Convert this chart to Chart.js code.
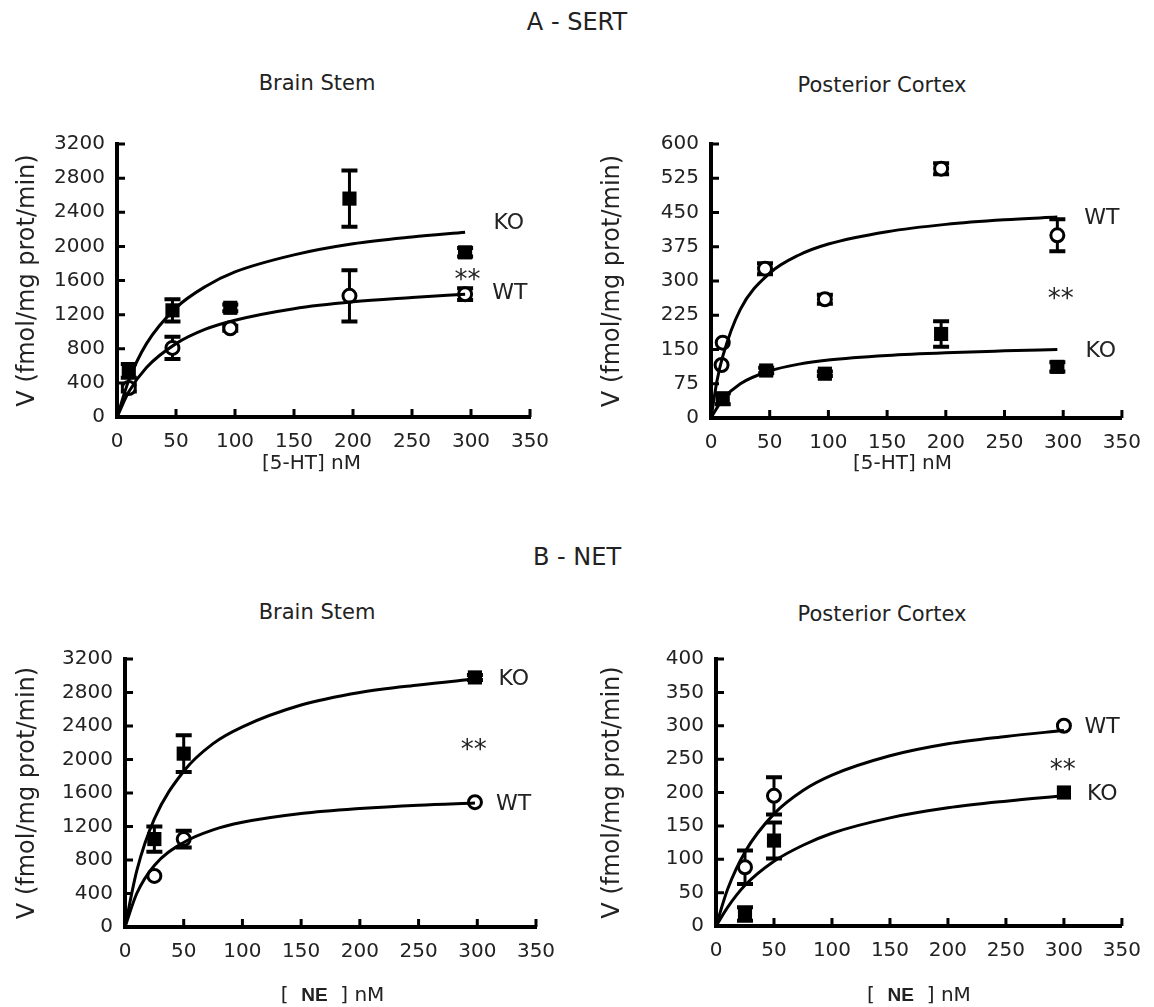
<!DOCTYPE html>
<html>
<head>
<meta charset="utf-8">
<script src="https://cdn.jsdelivr.net/npm/chart.js@4"></script>
<style>
  body { margin: 0; background: #fff; width: 1154px; height: 1007px; position: relative; overflow: hidden;
         font-family: "DejaVu Sans", sans-serif; color: #222; }
  .hd { position: absolute; transform: translateX(-50%); white-space: nowrap; }
  .sec { font-size: 24px; line-height: 24px; }
  .sub { font-size: 21px; line-height: 22px; }
  canvas { position: absolute; }
</style>
</head>
<body>
<div class="hd sec" style="left:577px; top:10px">A - SERT</div>
<div class="hd sub" style="left:317px; top:72px">Brain Stem</div>
<div class="hd sub" style="left:882px; top:74px">Posterior Cortex</div>
<div class="hd sec" style="left:577px; top:545px">B - NET</div>
<div class="hd sub" style="left:317px; top:601px">Brain Stem</div>
<div class="hd sub" style="left:882px; top:603px">Posterior Cortex</div>

<canvas id="sertBs" width="570" height="370" style="left:0px; top:120px"></canvas>
<canvas id="sertPc" width="569" height="370" style="left:585px; top:120px"></canvas>
<canvas id="netBs" width="570" height="372" style="left:0px; top:635px"></canvas>
<canvas id="netPc" width="569" height="372" style="left:585px; top:635px"></canvas>

<script>
// ---- A - SERT, brain stem ----
const sertBsX = [10, 47, 96, 197, 295];
const sertBsKO = [540, 1250, 1280, 2560, 1930];
const sertBsKOErr = [80, 130, 40, 330, 50];
const sertBsWT = [340, 810, 1040, 1420, 1440];
const sertBsWTErr = [40, 130, 30, 300, 70];
const sertBsFitX = [0, 10, 25, 50, 75, 100, 150, 200, 250, 295];
const sertBsFitKO = [0, 430, 860, 1280, 1530, 1700, 1900, 2030, 2110, 2165];
const sertBsFitWT = [0, 295, 580, 860, 1030, 1135, 1270, 1350, 1400, 1440];

// ---- A - SERT, posterior cortex ----
const sertPcWTX = [9, 10, 46, 97, 196, 295];
const sertPcWT = [116, 165, 327, 260, 546, 400];
const sertPcWTErr = [0, 0, 12, 10, 12, 35];
const sertPcKOX = [10, 47, 97, 196, 295];
const sertPcKO = [42, 104, 97, 184, 112];
const sertPcKOErr = [12, 6, 5, 28, 10];
const sertPcFitX = [0, 5, 10, 25, 50, 75, 100, 150, 200, 250, 295];
const sertPcFitWT = [0, 80, 135, 238, 317, 357, 381, 408, 424, 434, 440];
const sertPcFitKO = [0, 22, 41, 75, 103, 118, 127, 137, 143, 147, 150];

// ---- B - NET, brain stem ----
const netBsX = [25, 50, 298];
const netBsKO = [1050, 2070, 2980];
const netBsKOErr = [150, 220, 30];
const netBsWT = [610, 1050, 1490];
const netBsWTErr = [0, 100, 0];
const netBsFitX = [0, 10, 25, 50, 75, 100, 150, 200, 250, 298];
const netBsFitKO = [0, 670, 1290, 1860, 2190, 2390, 2650, 2800, 2890, 2960];
const netBsFitWT = [0, 400, 735, 1010, 1160, 1250, 1355, 1415, 1455, 1480];

// ---- B - NET, posterior cortex ----
const netPcX = [25, 50, 300];
const netPcWT = [88, 195, 300];
const netPcWTErr = [25, 28, 0];
const netPcKO = [18, 128, 200];
const netPcKOErr = [10, 27, 0];
const netPcFitX = [0, 10, 25, 50, 75, 100, 150, 200, 250, 300];
const netPcFitWT = [0, 55, 111, 168, 203, 226, 255, 273, 284, 293];
const netPcFitKO = [0, 28, 61, 97, 121, 139, 162, 177, 187, 195];

// text next to the curves, in data units
const sertBsNotes = [['KO', 332, 2270], ['**', 297, 1690], ['WT', 333, 1450]];
const sertPcNotes = [['WT', 333, 437], ['**', 298, 276], ['KO', 332, 146]];
const netBsNotes = [['KO', 331, 2960], ['**', 297, 2190], ['WT', 331, 1466]];
const netPcNotes = [['WT', 333, 298], ['**', 299, 244], ['KO', 333, 197]];

const FONT = '"DejaVu Sans", sans-serif';
const INK = '#222';
const SERT_CAPTION = [['[5-HT] nM', '20px ' + FONT]];
const NET_CAPTION = [['[  ', '20px ' + FONT], ['NE', 'bold 19px "Liberation Sans", sans-serif'], ['  ] nM', '20px ' + FONT]];

const xy = (xs, ys) => xs.map((x, i) => ({ x: x, y: ys[i] }));

function fit(xs, ys) {
  return {
    data: xy(xs, ys), showLine: true, borderColor: '#000', borderWidth: 3,
    pointRadius: 0, cubicInterpolationMode: 'monotone', fill: false
  };
}
function koPoints(xs, ys, err) {
  return {
    data: xy(xs, ys), yErr: err, showLine: false, pointStyle: 'rect', pointRadius: 10,
    backgroundColor: '#000', borderColor: '#000', borderWidth: 0
  };
}
function wtPoints(xs, ys, err) {
  return {
    data: xy(xs, ys), yErr: err, showLine: false, pointStyle: 'circle', pointRadius: 6.5,
    backgroundColor: '#fff', borderColor: '#000', borderWidth: 3
  };
}

/* error bars go under the markers */
const errorBars = {
  id: 'errorBars',
  beforeDatasetsDraw(chart) {
    const { ctx, scales: { x, y } } = chart;
    ctx.save();
    ctx.strokeStyle = '#000';
    chart.data.datasets.forEach(ds => {
      if (!ds.yErr) return;
      ds.data.forEach((p, i) => {
        const e = ds.yErr[i];
        if (!e) return;
        const px = x.getPixelForValue(p.x);
        const top = y.getPixelForValue(p.y + e);
        const bot = y.getPixelForValue(p.y - e);
        ctx.lineWidth = 3;
        ctx.beginPath(); ctx.moveTo(px, top); ctx.lineTo(px, bot); ctx.stroke();
        ctx.lineWidth = 4;
        ctx.beginPath();
        ctx.moveTo(px - 8, top); ctx.lineTo(px + 8, top);
        ctx.moveTo(px - 8, bot); ctx.lineTo(px + 8, bot);
        ctx.stroke();
      });
    });
    ctx.restore();
  }
};

/* tick marks pointing into the plot */
const innerTicks = {
  id: 'innerTicks',
  afterDraw(chart) {
    const { ctx, chartArea: { left, bottom }, scales: { x, y } } = chart;
    ctx.save();
    ctx.strokeStyle = '#000';
    ctx.lineWidth = 3;
    ctx.beginPath();
    x.ticks.forEach(t => {
      const px = x.getPixelForValue(t.value);
      ctx.moveTo(px, bottom); ctx.lineTo(px, bottom - 8);
    });
    y.ticks.forEach(t => {
      const py = y.getPixelForValue(t.value);
      ctx.moveTo(left - 2, py); ctx.lineTo(left + 8, py);
    });
    ctx.stroke();
    ctx.restore();
  }
};

const curveNotes = {
  id: 'curveNotes',
  afterDraw(chart, args, opts) {
    const { ctx, scales: { x, y } } = chart;
    ctx.save();
    ctx.fillStyle = INK;
    ctx.textAlign = 'center';
    ctx.textBaseline = 'middle';
    (opts.items || []).forEach(([text, vx, vy]) => {
      const stars = text === '**';
      ctx.font = (stars ? '26px ' : '22px ') + FONT;
      // DejaVu asterisks sit high, push them down to centre them
      ctx.fillText(text, x.getPixelForValue(vx), y.getPixelForValue(vy) + (stars ? 8 : 0));
    });
    ctx.restore();
  }
};

/* x axis caption, drawn by hand so it can mix fonts */
const xCaption = {
  id: 'xCaption',
  afterDraw(chart, args, opts) {
    const { ctx, chartArea: { left, right } } = chart;
    ctx.save();
    ctx.fillStyle = INK;
    ctx.textBaseline = 'middle';
    ctx.textAlign = 'left';
    const widths = opts.parts.map(([t, f]) => { ctx.font = f; return ctx.measureText(t).width; });
    let x = (left + right) / 2 + opts.dx - widths.reduce((a, b) => a + b, 0) / 2;
    opts.parts.forEach(([t, f], i) => {
      ctx.font = f;
      ctx.fillText(t, x, opts.y);
      x += widths[i];
    });
    ctx.restore();
  }
};

function makePanel(id, area, yMax, yStep, caption, datasets, notes) {
  const canvas = document.getElementById(id);
  const W = canvas.width, H = canvas.height;
  return new Chart(canvas, {
    type: 'scatter',
    data: { datasets: datasets },
    options: {
      responsive: false,
      animation: false,
      layout: { padding: { left: 13, top: area.top, right: W - area.right, bottom: 4 } },
      scales: {
        x: {
          type: 'linear', min: 0, max: 350,
          afterFit: s => { s.height = H - 4 - area.bottom; },
          ticks: { stepSize: 50, padding: 13, color: INK, font: { size: 20, family: FONT }, callback: v => String(v) },
          grid: { display: false, drawTicks: false },
          border: { color: '#000', width: 4 }
        },
        y: {
          type: 'linear', min: 0, max: yMax,
          afterFit: s => { s.width = area.left - 13; },
          ticks: { stepSize: yStep, padding: 12, color: INK, font: { size: 20, family: FONT }, callback: v => String(v) },
          grid: { display: false, drawTicks: false },
          border: { color: '#000', width: 4 },
          title: { display: true, text: 'V (fmol/mg prot/min)', padding: 0, color: INK, font: { size: 24, family: FONT } }
        }
      },
      plugins: {
        legend: { display: false },
        tooltip: { enabled: false },
        curveNotes: { items: notes },
        xCaption: { parts: caption, dx: area.capDx, y: area.capY }
      }
    },
    plugins: [errorBars, innerTicks, curveNotes, xCaption]
  });
}

makePanel('sertBs', { left: 117, right: 530, top: 24, bottom: 297, capY: 344, capDx: -12 }, 3200, 400, SERT_CAPTION, [
  fit(sertBsFitX, sertBsFitKO),
  fit(sertBsFitX, sertBsFitWT),
  koPoints(sertBsX, sertBsKO, sertBsKOErr),
  wtPoints(sertBsX, sertBsWT, sertBsWTErr)
], sertBsNotes);

makePanel('sertPc', { left: 126, right: 542, top: 24, bottom: 298, capY: 344, capDx: -14 }, 600, 75, SERT_CAPTION, [
  fit(sertPcFitX, sertPcFitWT),
  fit(sertPcFitX, sertPcFitKO),
  koPoints(sertPcKOX, sertPcKO, sertPcKOErr),
  wtPoints(sertPcWTX, sertPcWT, sertPcWTErr)
], sertPcNotes);

makePanel('netBs', { left: 125, right: 536, top: 22, bottom: 292, capY: 361, capDx: 2 }, 3200, 400, NET_CAPTION, [
  fit(netBsFitX, netBsFitKO),
  fit(netBsFitX, netBsFitWT),
  koPoints(netBsX, netBsKO, netBsKOErr),
  wtPoints(netBsX, netBsWT, netBsWTErr)
], netBsNotes);

makePanel('netPc', { left: 131, right: 541, top: 22, bottom: 291, capY: 361, capDx: 0 }, 400, 50, NET_CAPTION, [
  fit(netPcFitX, netPcFitWT),
  fit(netPcFitX, netPcFitKO),
  koPoints(netPcX, netPcKO, netPcKOErr),
  wtPoints(netPcX, netPcWT, netPcWTErr)
], netPcNotes);
</script>
</body>
</html>
